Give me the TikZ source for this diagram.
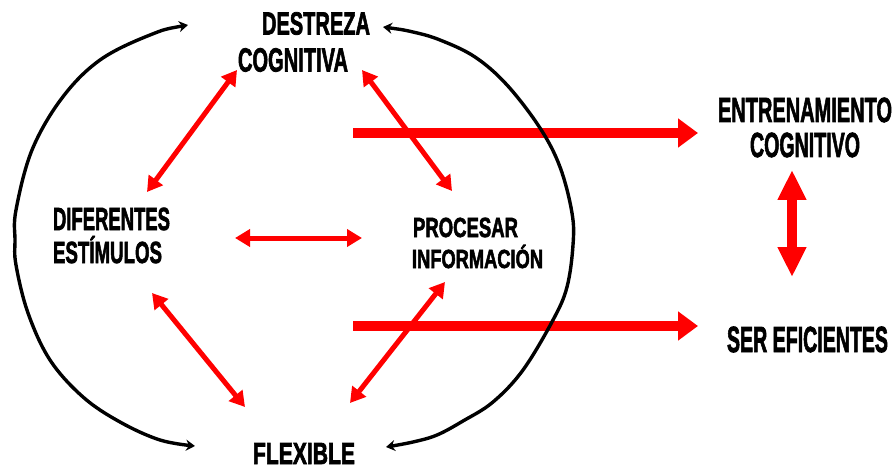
\documentclass[tikz,border=0pt]{standalone}
\usepackage{fontspec}
\setmainfont{Liberation Sans}
\newfontfamily\heavy[FakeBold=2.5]{Liberation Sans Bold}
\usepackage{graphicx}
\usetikzlibrary{arrows.meta}
\newcommand\capfit[3]{\resizebox{#1pt}{#2pt}{\heavy\raisebox{0pt}[\fontcharht\font`E][0pt]{#3}}}
\tikzset{
  lbl/.style={inner sep=0pt, outer sep=0pt},
  redlink/.style={draw=red, line width=5pt, {Triangle[length=15pt,width=17pt]}-{Triangle[length=15pt,width=17pt]}},
  bigarrow/.style={draw=red, line width=10pt, -{Triangle[length=20pt,width=28pt]}},
  bigdouble/.style={draw=red, line width=10pt, {Triangle[length=30pt,width=27pt]}-{Triangle[length=30pt,width=27pt]}},
  blackarc/.style={draw=black, line width=3.4pt, {Stealth[length=9pt,width=11pt]}-{Stealth[length=9pt,width=11pt]}}
}
\begin{document}
\begin{tikzpicture}[x=1pt,y=-1pt]
\useasboundingbox (0,0) rectangle (893,470);
% text nodes
\node[lbl] (destreza) at (316,23.5) {\capfit{108}{22}{DESTREZA}};
\node[lbl] (cognitiva) at (293,60) {\capfit{110}{23}{COGNITIVA}};
\node[lbl] (diferentes) at (111.5,219) {\capfit{117}{22}{DIFERENTES}};
\node[lbl] (estimulos) at (107.5,252.5) {\capfit{109}{21}{ESTÍMULOS}};
\node[lbl] (procesar) at (465.5,227.5) {\capfit{105}{19}{PROCESAR}};
\node[lbl] (informacion) at (477.5,259) {\capfit{131}{18}{INFORMACIÓN}};
\node[lbl] (entrenamiento) at (805,110) {\capfit{174}{24}{ENTRENAMIENTO}};
\node[lbl] (cognitivo) at (805,145) {\capfit{110}{24}{COGNITIVO}};
\node[lbl] (ser) at (807.5,339.5) {\capfit{161}{25}{SER EFICIENTES}};
\node[lbl] (flexible) at (304,453.5) {\capfit{102}{21}{FLEXIBLE}};
% connector end points
\coordinate (dc1) at (147,192); \coordinate (dc2) at (237,70);
\coordinate (cp1) at (362,70);  \coordinate (cp2) at (452,191);
\coordinate (dp1) at (235,238); \coordinate (dp2) at (362,238);
\coordinate (df1) at (152,293); \coordinate (df2) at (245,407);
\coordinate (fp1) at (350,403); \coordinate (fp2) at (445,282);
\coordinate (b1s) at (353,133); \coordinate (b1e) at (698,133);
\coordinate (b2s) at (353,326); \coordinate (b2e) at (698,326);
\coordinate (v1) at (792,170);  \coordinate (v2) at (792,277);
% red connectors
\draw[redlink] (dc1) -- (dc2);
\draw[redlink] (cp1) -- (cp2);
\draw[redlink] (dp1) -- (dp2);
\draw[redlink] (df1) -- (df2);
\draw[redlink] (fp1) -- (fp2);
\draw[bigarrow] (b1s) -- (b1e);
\draw[bigarrow] (b2s) -- (b2e);
\draw[bigdouble] (v1) -- (v2);
% black arcs
\draw[blackarc] plot[smooth, tension=0.6] coordinates {(188,25) (150,35) (100,60) (62,98) (32,150) (16,210) (15,240) (16,265) (28,313) (50,360) (83,397) (120,422) (160,440) (195,446)};
\draw[blackarc] plot[smooth, tension=0.6] coordinates {(383,27) (413,32) (440,40) (475,57) (507,85) (540,128) (560,167) (572,213) (573,245) (567,287) (553,320) (523,370) (493,402) (463,421) (437,435) (413,442) (386,447)};
\end{tikzpicture}
\end{document}
